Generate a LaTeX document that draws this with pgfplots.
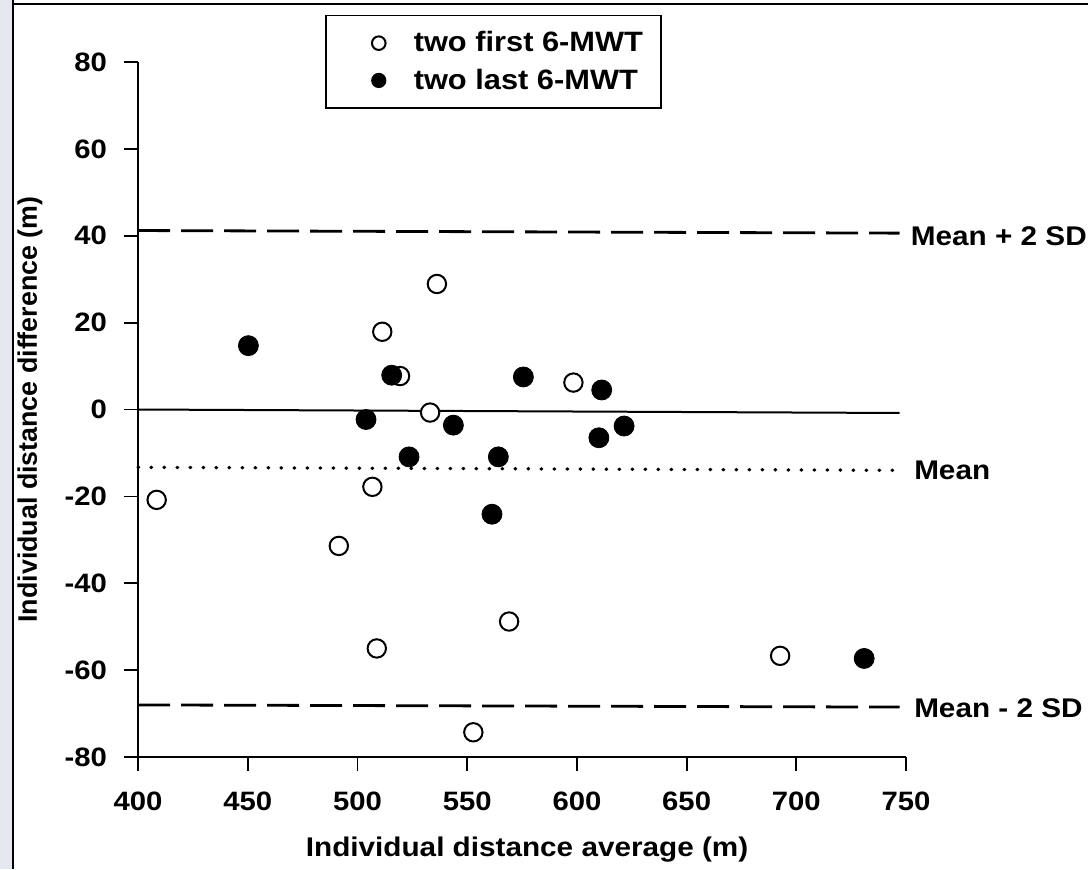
\documentclass[border=0pt]{standalone}
\usepackage{fontspec}
\setmainfont{Liberation Sans}[FakeStretch=1.1]
\newfontfamily\ylfont{Liberation Sans}
\usepackage{pgfplots}
\pgfplotsset{compat=1.18}
\definecolor{bandgray}{HTML}{E4E8EE}
\begin{document}
\begin{tikzpicture}
\begin{axis}[
 scale only axis, width=384pt, height=347.5pt,
 xmin=400, xmax=750, ymin=-80, ymax=80,
 axis x line*=bottom, axis y line*=left,
 axis line style={line width=0.9pt},
 xtick={400,450,...,750}, ytick={-80,-60,...,80},
 tick align=outside, major tick length=7pt,
 tick style={line width=0.9pt, black},
 /pgf/number format/assume math mode=true,
 ticklabel style={font=\bfseries\fontsize{13.3}{15}\selectfont},
 xticklabel style={yshift=-7pt},
 yticklabel style={xshift=-5pt},
 clip=false,
 legend style={at={(0.2434,1.068)}, anchor=north west, draw=black, line width=0.8pt,
   inner xsep=7pt, inner ysep=6pt, row sep=3pt,
   font=\bfseries\fontsize{14}{15}\selectfont, cells={anchor=west}},
 legend image code/.code={\path[draw=none,fill=none] (7pt,-4pt) rectangle (42pt,4pt); \draw[#1, mark size=3.4pt] plot coordinates {(26.5pt,0pt)};},
]
% frame decorations
\fill[bandgray] (axis cs:337.1,-105.78) rectangle (axis cs:342.6,94.27);
\draw[line width=0.8pt] (axis cs:343,94.27) -- (axis cs:343,-105.78);
\draw[line width=0.6pt] (axis cs:343,93.35) -- (axis cs:832.9,93.35);
\coordinate (BL) at (axis cs:337.1,-105.78);
\coordinate (TR) at (axis cs:832.9,94.27);
% reference lines
\addplot[forget plot, black, line width=1.4pt, dash pattern=on 16pt off 5.5pt] coordinates {(400,41.2) (747,40.6)};
\addplot[forget plot, black, line width=1.4pt, dash pattern=on 16pt off 5.5pt] coordinates {(400,-68.0) (747,-68.5)};
\addplot[forget plot, black, line width=1pt] coordinates {(400,0) (747,-0.8)};
\addplot[forget plot, black, line width=1.7pt, line cap=round, dash pattern=on 0.3pt off 6.2pt] coordinates {(400,-13.3) (747,-14.0)};
% data
\addplot[only marks, mark=*, mark size=4.6pt, mark options={fill=white, draw=black, line width=1pt}] table {
x y
408.5 -20.8
511.3 17.9
519.4 7.7
536.2 28.9
533.1 -0.7
506.8 -17.8
491.5 -31.4
508.8 -55.0
569.1 -48.8
552.8 -74.3
692.6 -56.7
598.4 6.2
};
\addlegendentry{two first 6-MWT}
\addplot[only marks, mark=*, mark size=5pt, mark options={fill=black, draw=black}] table {
x y
450.3 14.7
515.6 7.9
575.6 7.5
611.3 4.5
503.9 -2.3
543.7 -3.6
621.5 -3.8
610.0 -6.5
523.5 -10.9
564.2 -10.9
561.3 -24.1
730.9 -57.3
};
\addlegendentry{two last 6-MWT}
% right labels
\node[anchor=west, font=\bfseries\fontsize{13.5}{15}\selectfont] at (axis cs:749,40) {Mean + 2 SD};
\node[anchor=west, font=\bfseries\fontsize{13.5}{15}\selectfont] at (axis cs:750.5,-13.9) {Mean};
\node[anchor=west, font=\bfseries\fontsize{13.5}{15}\selectfont] at (axis cs:750.5,-68.7) {Mean - 2 SD};
% axis labels
\node[font=\bfseries\fontsize{13.5}{15}\selectfont] at ([xshift=2.5pt,yshift=-46.5pt]rel axis cs:0.5,0) {Individual distance average (m)};
\node[rotate=90, font=\ylfont\bfseries\fontsize{13.4}{15}\selectfont] at ([xshift=-54pt]rel axis cs:0,0.5) {Individual distance difference (m)};
\end{axis}
\pgfresetboundingbox
\path[use as bounding box] (BL) rectangle (TR);
\end{tikzpicture}
\end{document}
